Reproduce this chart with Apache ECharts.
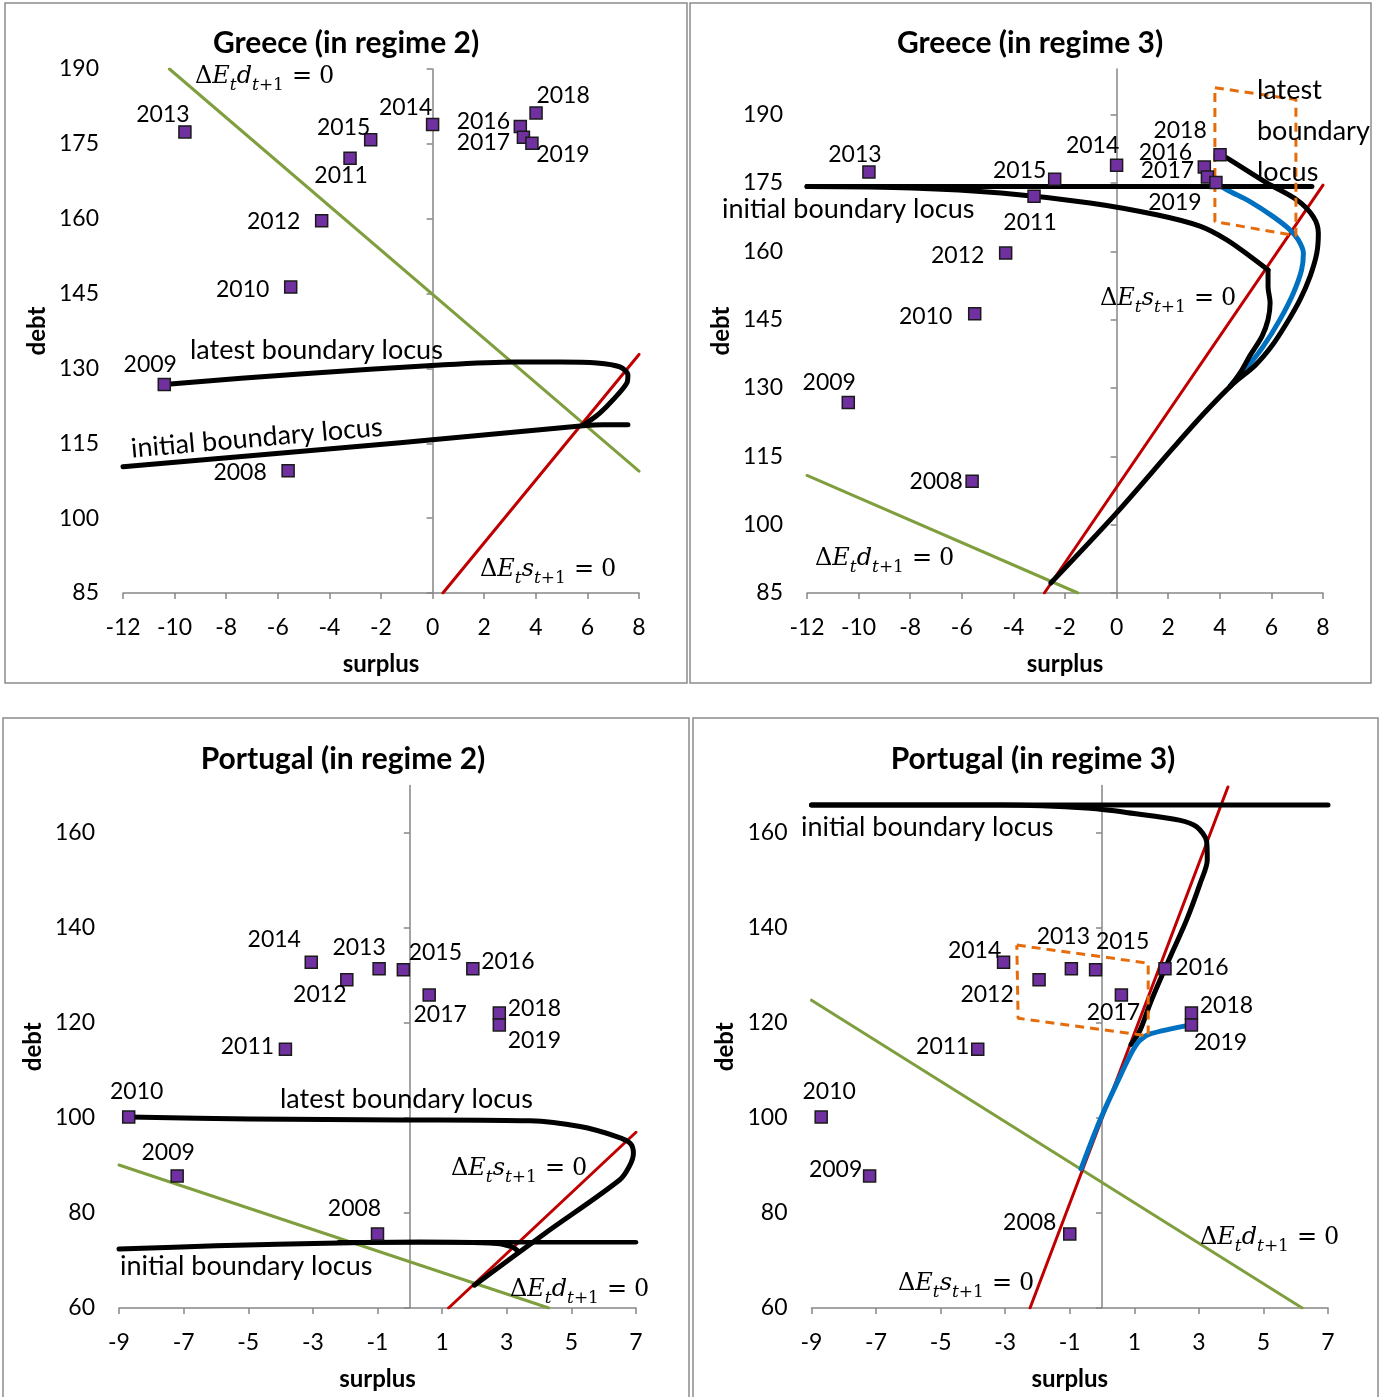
<!DOCTYPE html>
<html>
<head>
<meta charset="utf-8">
<script src="https://cdn.jsdelivr.net/npm/echarts@6/dist/echarts.min.js"></script>
<style>
  html, body { margin: 0; padding: 0; background: #ffffff; }
  #chart { width: 1380px; height: 1397px; }
</style>
</head>
<body>
<div id="chart"></div>
<script>
// ---------- observations ----------
const years = ['2008', '2009', '2010', '2011', '2012', '2013', '2014', '2015', '2016', '2017', '2018', '2019'];

const grcSurplus = [-5.6, -10.4, -5.5, -3.2, -4.3, -9.6, 0.0, -2.4, 3.4, 3.52, 4.01, 3.85];
const grcDebt = [109.5, 126.8, 146.3, 172.1, 159.6, 177.4, 178.9, 175.8, 178.5, 176.3, 181.2, 175.1];

const prtSurplus = [-1.0, -7.2, -8.7, -3.85, -1.95, -0.95, -3.05, -0.2, 1.95, 0.6, 2.77, 2.77];
const prtDebt = [75.6, 87.8, 100.2, 114.5, 129.1, 131.4, 132.8, 131.2, 131.4, 125.9, 122.1, 119.6];

// ---------- axis ticks ----------
const grcSurplusTicks = [-12, -10, -8, -6, -4, -2, 0, 2, 4, 6, 8];
const grcDebtTicks = [85, 100, 115, 130, 145, 160, 175, 190];
const prtSurplusTicks = [-9, -7, -5, -3, -1, 1, 3, 5, 7];
const prtDebtTicks = [60, 80, 100, 120, 140, 160];

// ---------- Greece, regime 2 ----------
const grc2DdX = [-10.2, 8.0];
const grc2DdY = [190, 109.4];
const grc2DsX = [0.4, 8.0];
const grc2DsY = [85, 132.8];
const grc2LatestX = [-10.4, -5.14, 0.29, 3.19, 4.94, 6.37, 7.26, 7.57, 7.53, 6.99, 6.49, 5.98, 5.83];
const grc2LatestY = [126.8, 128.9, 130.7, 131.3, 131.3, 131.1, 130.3, 128.7, 127.1, 123.7, 121.1, 119.1, 118.6];
const grc2InitialX = [-12, -1.26, 5.83, 6.6, 7.57];
const grc2InitialY = [110.3, 115.1, 118.5, 118.7, 118.7];

// ---------- Greece, regime 3 ----------
const grc3DdX = [-12, -1.5];
const grc3DdY = [110.8, 85];
const grc3DsX = [-2.8, 8.0];
const grc3DsY = [85, 174.5];
const grc3FlatX = [-12, 7.57];
const grc3FlatY = [174.2, 174.2];
const grc3InitialUpperX = [-12, -7.94, -4.48, -1.03, 1.55, 3.23, 4.27, 5.17, 5.87];
const grc3InitialUpperY = [174.2, 173.9, 172.8, 170.6, 168.0, 165.5, 162.5, 158.9, 155.9];
const grc3InitialLowerX = [5.87, 5.87, 5.95, 5.87, 5.64, 5.17, 4.8, 4.4];
const grc3InitialLowerY = [155.9, 152.2, 148.7, 145.0, 141.4, 137.1, 133.4, 130.3];
const grc3OuterX = [4.01, 4.27, 5.82, 6.98, 7.62, 7.82, 7.76, 7.5, 7.11, 6.59, 6.02, 5.36, 4.51, 3.4, 2.2, 0.0, -2.55];
const grc3OuterY = [181.2, 180.5, 175.0, 171.3, 167.6, 164.0, 159.6, 154.5, 149.4, 144.2, 139.25, 134.9, 130.9, 124.5, 116.9, 102.6, 87.2];
const grc3LatestX = [3.85, 4.27, 5.17, 6.07, 6.72, 7.04, 7.24, 7.17, 6.85, 6.33, 5.67, 4.98, 4.4];
const grc3LatestY = [175.1, 173.5, 170.9, 167.6, 164.7, 162.5, 159.6, 155.9, 150.8, 145.0, 139.0, 134.0, 130.5];
const grc3BoxX = [3.81, 6.95, 6.95, 3.81, 3.81];
const grc3BoxY = [195.9, 193.3, 163.4, 166.5, 195.9];

// ---------- Portugal, regime 2 ----------
const prt2DdX = [-9, 4.3];
const prt2DdY = [90.1, 60];
const prt2DsX = [1.2, 7.0];
const prt2DsY = [60, 97.0];
const prt2LatestX = [-8.7, -4.95, -0.3, 3.72, 5.27, 6.4, 6.82, 6.92, 6.8, 6.5, 4.2, 2.0];
const prt2LatestY = [100.2, 99.8, 99.6, 99.4, 98.2, 96.1, 94.7, 92.6, 89.9, 87.0, 75.8, 64.8];
const prt2InitialX = [-9, -6, -2.2, 0.3, 2.69, 3.15, 3.33];
const prt2InitialY = [72.4, 73.1, 73.7, 73.9, 73.6, 72.9, 72.1];
const prt2FlatX = [-2.2, 7.0];
const prt2FlatY = [73.85, 73.85];

// ---------- Portugal, regime 3 ----------
const prt3DdX = [-9, 6.2];
const prt3DdY = [124.8, 60];
const prt3DsX = [-2.23, 3.9];
const prt3DsY = [60, 169.7];
const prt3FlatX = [-9, 7];
const prt3FlatY = [165.9, 165.9];
const prt3InitialX = [-9, -3.13, -0.37, 0.99, 2.39, 2.93, 3.24, 3.26, 3.04, 2.62, 2.21, 1.8, 1.49, 1.18, 0.9];
const prt3InitialY = [165.9, 165.9, 165.2, 164.1, 162.7, 161.3, 158.2, 154.3, 149.4, 141.7, 135.4, 129.1, 124.1, 118.5, 115.5];
const prt3LatestX = [2.77, 1.49, 1.18, 0.96, 0.65, -0.06, -0.65];
const prt3LatestY = [119.6, 117.7, 116.4, 114.3, 110.1, 99.6, 89.3];
const prt3BoxX = [-2.64, 1.43, 1.43, -2.6, -2.64];
const prt3BoxY = [136.4, 132.6, 117.3, 121.0, 136.4];

// ---------- styling ----------
const SANS = 'Lato, "Open Sans", sans-serif';
const SERIF = '"DejaVu Serif", "Liberation Serif", serif';
const AXIS_GREY = '#868686';
const GREEN = '#7f9f3f';
const RED = '#c00000';
const BLUE = '#0070c0';
const ORANGE = '#e46c0a';
const PURPLE = '#7030a0';

// label placement around each year marker, per panel
const grc2LabelOffsets = {
  '2008': [-48, 2], '2009': [-14, -20], '2010': [-48, 2], '2011': [-9, 17],
  '2012': [-48, 1], '2013': [-22, -17], '2014': [-27, -17], '2015': [-27, -12],
  '2016': [-37, -5], '2017': [-40, 5], '2018': [27, -17], '2019': [31, 11]
};
const grc3LabelOffsets = {
  '2008': [-36, 0], '2009': [-19, -20], '2010': [-49, 3], '2011': [-4, 26],
  '2012': [-48, 2], '2013': [-14, -17], '2014': [-24, -20], '2015': [-35, -9],
  '2016': [-39, -14], '2017': [-40, -6], '2018': [-40, -24], '2019': [-41, 20]
};
const prt2LabelOffsets = {
  '2008': [-23, -25], '2009': [-9, -23], '2010': [8, -25], '2011': [-38, -3],
  '2012': [-27, 15], '2013': [-20, -21], '2014': [-37, -23], '2015': [32, -17],
  '2016': [35, -7], '2017': [11, 20], '2018': [35, -4], '2019': [35, 16]
};
const prt3LabelOffsets = {
  '2008': [-40, -11], '2009': [-34, -6], '2010': [8, -25], '2011': [-35, -3],
  '2012': [-52, 15], '2013': [-8, -32], '2014': [-29, -12], '2015': [27, -28],
  '2016': [37, -1], '2017': [-8, 18], '2018': [35, -7], '2019': [29, 18]
};

const zip = (xs, ys) => xs.map((x, i) => [x, ys[i]]);

function curve(g, xs, ys, color, width, extra) {
  return Object.assign({
    type: 'line', xAxisIndex: g, yAxisIndex: g * 2,
    data: zip(xs, ys), symbol: 'none', silent: true,
    lineStyle: { color: color, width: width, cap: 'round', join: 'round' },
    z: 3
  }, extra || {});
}

function years2scatter(g, xs, ys, offsets) {
  return {
    type: 'scatter', xAxisIndex: g, yAxisIndex: g * 2, z: 6,
    symbol: 'rect', symbolSize: 12,
    itemStyle: { color: PURPLE, borderColor: '#1a1a1a', borderWidth: 1.5, opacity: 1 },
    label: {
      show: true, position: 'inside', formatter: p => p.name,
      color: '#000', fontFamily: SANS, fontSize: 23, textBorderWidth: 0,
      align: 'center', verticalAlign: 'middle'
    },
    data: xs.map((x, i) => ({ name: years[i], value: [x, ys[i]], label: { offset: offsets[years[i]] } }))
  };
}

const grids = [
  { left: 123, top: 69, width: 516, height: 524 },
  { left: 807, top: 69, width: 516, height: 524 },
  { left: 119, top: 785.5, width: 517, height: 522.5 },
  { left: 811.5, top: 785.5, width: 516.5, height: 522.5 }
];

const axisRanges = [
  { x: [-12, 8, 2], y: [85, 190], xt: grcSurplusTicks, yt: grcDebtTicks },
  { x: [-12, 8, 2], y: [85, 200], xt: grcSurplusTicks, yt: grcDebtTicks },
  { x: [-9, 7, 2], y: [60, 170], xt: prtSurplusTicks, yt: prtDebtTicks },
  { x: [-9, 7, 2], y: [60, 170], xt: prtSurplusTicks, yt: prtDebtTicks }
];

const xAxes = [];
const yAxes = [];
axisRanges.forEach((r, g) => {
  xAxes.push({
    gridIndex: g, type: 'value', min: r.x[0], max: r.x[1], interval: r.x[2],
    axisLine: { onZero: false, lineStyle: { color: AXIS_GREY, width: 1.5 } },
    axisTick: { show: true, length: 6, lineStyle: { color: AXIS_GREY, width: 1.5 } },
    axisLabel: { margin: 23, fontFamily: SANS, fontSize: 23, color: '#000' },
    splitLine: { show: false },
    name: 'surplus', nameLocation: 'middle', nameGap: 59,
    nameTextStyle: { fontFamily: SANS, fontWeight: 'bold', fontSize: 24, color: '#000' }
  });
  // tick labels on the left edge
  yAxes.push({
    gridIndex: g, type: 'value', position: 'left', min: r.y[0], max: r.y[1],
    axisLine: { show: false, onZero: false },
    axisTick: { show: false },
    axisLabel: { margin: 24, fontFamily: SANS, fontSize: 23, color: '#000', customValues: r.yt },
    splitLine: { show: false },
    name: 'debt', nameLocation: 'middle', nameGap: 74, nameRotate: 90,
    nameTextStyle: { fontFamily: SANS, fontWeight: 'bold', fontSize: 24, color: '#000' }
  });
  // vertical axis line drawn through surplus = 0
  yAxes.push({
    gridIndex: g, type: 'value', position: 'left', min: r.y[0], max: r.y[1],
    axisLine: { show: true, onZero: true, onZeroAxisIndex: g, lineStyle: { color: AXIS_GREY, width: 1.5 } },
    axisTick: { show: true, length: 6, customValues: r.yt, lineStyle: { color: AXIS_GREY, width: 1.5 } },
    axisLabel: { show: false },
    splitLine: { show: false }
  });
});

const dash = { type: [9, 6], cap: 'butt' };

const series = [
  // Greece, regime 2
  curve(0, grc2DdX, grc2DdY, GREEN, 3, { z: 2 }),
  curve(0, grc2DsX, grc2DsY, RED, 3, { z: 2 }),
  curve(0, grc2InitialX, grc2InitialY, '#000', 5, { smooth: 0.2 }),
  curve(0, grc2LatestX, grc2LatestY, '#000', 5, { smooth: 0.3 }),
  years2scatter(0, grcSurplus, grcDebt, grc2LabelOffsets),

  // Greece, regime 3
  curve(1, grc3DdX, grc3DdY, GREEN, 3, { z: 2 }),
  curve(1, grc3DsX, grc3DsY, RED, 3, { z: 2 }),
  curve(1, grc3LatestX, grc3LatestY, BLUE, 5, { smooth: 0.3, z: 2.5 }),
  curve(1, grc3FlatX, grc3FlatY, '#000', 5),
  curve(1, grc3InitialUpperX, grc3InitialUpperY, '#000', 5, { smooth: 0.3 }),
  curve(1, grc3InitialLowerX, grc3InitialLowerY, '#000', 5, { smooth: 0.3 }),
  curve(1, grc3OuterX, grc3OuterY, '#000', 5, { smooth: 0.3 }),
  curve(1, grc3BoxX, grc3BoxY, ORANGE, 3, { z: 4, lineStyle: Object.assign({ color: ORANGE, width: 3 }, dash) }),
  years2scatter(1, grcSurplus, grcDebt, grc3LabelOffsets),

  // Portugal, regime 2
  curve(2, prt2DdX, prt2DdY, GREEN, 3, { z: 2 }),
  curve(2, prt2DsX, prt2DsY, RED, 3, { z: 2 }),
  curve(2, prt2FlatX, prt2FlatY, '#000', 4.5),
  curve(2, prt2InitialX, prt2InitialY, '#000', 5, { smooth: 0.3 }),
  curve(2, prt2LatestX, prt2LatestY, '#000', 5, { smooth: 0.3 }),
  years2scatter(2, prtSurplus, prtDebt, prt2LabelOffsets),

  // Portugal, regime 3
  curve(3, prt3DdX, prt3DdY, GREEN, 3, { z: 2 }),
  curve(3, prt3DsX, prt3DsY, RED, 3, { z: 2 }),
  curve(3, prt3FlatX, prt3FlatY, '#000', 5),
  curve(3, prt3InitialX, prt3InitialY, '#000', 5, { smooth: 0.3 }),
  curve(3, prt3LatestX, prt3LatestY, BLUE, 5, { smooth: 0.3, z: 3.5 }),
  curve(3, prt3BoxX, prt3BoxY, ORANGE, 3, { z: 4, lineStyle: Object.assign({ color: ORANGE, width: 3 }, dash) }),
  years2scatter(3, prtSurplus, prtDebt, prt3LabelOffsets)
];

// ---------- text boxes ----------
const eqRich = {
  m: { fontFamily: SERIF, fontSize: 24, lineHeight: 30, fill: '#000' },
  q: { fontFamily: SERIF, fontSize: 24, lineHeight: 30, fill: '#000', padding: [0, 7, 0, 8] },
  i: { fontFamily: SERIF, fontStyle: 'italic', fontSize: 24, lineHeight: 30, fill: '#000' },
  s: { fontFamily: SERIF, fontStyle: 'italic', fontSize: 17, lineHeight: 18, padding: [17, 0, 0, 0], fill: '#000' },
  n: { fontFamily: SERIF, fontSize: 17, lineHeight: 18, padding: [17, 0, 0, 0], fill: '#000' }
};
const eq = v => '{m|Δ}{i|E}{s|t}{i|' + v + '}{s|t}{n|+1}{q|=}{m|0}';

function eqText(x, y, v) {
  return {
    type: 'text', x: x, y: y, z: 10, silent: true,
    style: { text: eq(v), rich: eqRich, fill: '#000', align: 'left', verticalAlign: 'middle', textAlign: 'left', textVerticalAlign: 'middle' }
  };
}
function plainText(x, y, text, opts) {
  return Object.assign({
    type: 'text', x: x, y: y, z: 10, silent: true,
    style: Object.assign({
      text: text, fill: '#000', fontFamily: SANS, fontSize: 27,
      align: 'left', verticalAlign: 'middle', textAlign: 'left', textVerticalAlign: 'middle'
    }, (opts && opts.style) || {})
  }, (opts && opts.el) || {});
}
function titleText(x, y, text) {
  return plainText(x, y, text, { style: { fontWeight: 'bold', fontSize: 30, align: 'center', textAlign: 'center' } });
}
function frame(x, y, w, h) {
  return { type: 'rect', silent: true, z: 0, shape: { x: x, y: y, width: w, height: h }, style: { fill: 'none', stroke: '#8c8c8c', lineWidth: 1.5 } };
}

const graphic = [
  frame(5, 3, 682, 680),
  frame(690, 3, 681, 680),
  frame(3, 718, 686, 700),
  frame(693, 718, 685, 700),

  titleText(346, 43, 'Greece (in regime 2)'),
  titleText(1030, 43, 'Greece (in regime 3)'),
  titleText(343, 759, 'Portugal (in regime 2)'),
  titleText(1033, 759, 'Portugal (in regime 3)'),

  // Greece, regime 2
  eqText(195, 77, 'd'),
  eqText(480, 570, 's'),
  plainText(190, 350, 'latest boundary locus'),
  plainText(131, 449, 'initial boundary locus', { el: { rotation: 5 * Math.PI / 180 } }),

  // Greece, regime 3
  eqText(1100, 299, 's'),
  eqText(815, 559, 'd'),
  plainText(722, 209, 'initial boundary locus'),
  plainText(1257, 131, 'latest\nboundary\nlocus', { style: { lineHeight: 41 } }),

  // Portugal, regime 2
  plainText(280, 1099, 'latest boundary locus'),
  plainText(120, 1266, 'initial boundary locus'),
  eqText(451, 1169, 's'),
  eqText(510, 1290, 'd'),

  // Portugal, regime 3
  plainText(801, 827, 'initial boundary locus'),
  eqText(898, 1284, 's'),
  eqText(1200, 1238, 'd')
];

const chart = echarts.init(document.getElementById('chart'), null, { renderer: 'canvas' });
chart.setOption({
  animation: false,
  backgroundColor: '#ffffff',
  grid: grids,
  xAxis: xAxes,
  yAxis: yAxes,
  series: series,
  graphic: graphic
});
</script>
</body>
</html>
